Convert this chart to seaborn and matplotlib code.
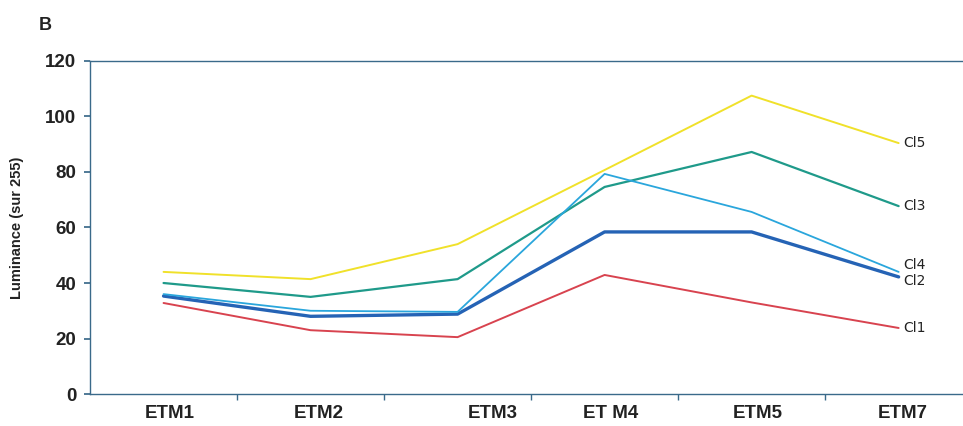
import pandas as pd
import matplotlib.pyplot as plt
import matplotlib.transforms as mtransforms
import seaborn as sns

bands = ['ETM1', 'ETM2', 'ETM3', 'ET M4', 'ETM5', 'ETM7']
classes = ['Cl1', 'Cl2', 'Cl3', 'Cl4', 'Cl5']
cl1 = [32.8, 23.0, 20.5, 42.9, 33.0, 23.8]
cl2 = [35.3, 28.0, 28.8, 58.4, 58.4, 42.2]
cl3 = [40.0, 35.0, 41.4, 74.6, 87.2, 67.7]
cl4 = [36.0, 30.0, 29.6, 79.3, 65.6, 44.0]
cl5 = [44.0, 41.4, 54.0, 80.7, 107.5, 90.4]

series = {'Cl1': cl1, 'Cl2': cl2, 'Cl3': cl3, 'Cl4': cl4, 'Cl5': cl5}
rows = []
for name, vals in series.items():
    for i, v in enumerate(vals):
        rows.append({'x': i, 'band': bands[i], 'classe': name, 'lum': v})
df = pd.DataFrame(rows)

palette = {'Cl1': '#d8434f', 'Cl2': '#2563b5', 'Cl3': '#1f9a8a',
           'Cl4': '#2aa6dc', 'Cl5': '#f0e12a'}
widths = {'Cl1': 1.4, 'Cl2': 2.4, 'Cl3': 1.6, 'Cl4': 1.3, 'Cl5': 1.4}
label_dy = {'Cl1': 0, 'Cl2': -1.5, 'Cl3': 0, 'Cl4': 2.5, 'Cl5': 0}
# scanned labels sit a bit off the category centres (pixels)
label_dx = [6, 8, 35, 6, 6, 4]

sns.set_theme(style="white")
plt.rcParams['font.family'] = ['Liberation Sans', 'DejaVu Sans']

fig = plt.figure(figsize=(9.63, 4.26), dpi=100)
ax = fig.add_axes([0.0935, 0.075, 0.916, 0.782])

for name in classes:
    sub = df[df['classe'] == name]
    sns.lineplot(data=sub, x='x', y='lum', color=palette[name],
                 linewidth=widths[name], ax=ax, legend=False)
    last = sub.iloc[-1]
    ax.text(last['x'] + 0.03, last['lum'] + label_dy[name], name,
            fontsize=10, family='Liberation Sans Narrow', va='center', ha='left',
            color='#222222')

ax.set_xlim(-0.5, 5.5)
ax.set_ylim(0, 120)
ax.set_yticks(range(0, 121, 20))
ax.set_xticks(range(len(bands)))
ax.set_xticklabels(bands)
ax.set_xticks([i + 0.5 for i in range(len(bands) - 1)], minor=True)
ax.tick_params(axis='x', which='major', length=0, pad=8, labelsize=13.5)
ax.tick_params(axis='x', which='minor', length=4, color='#3a6a8a', bottom=True)
ax.tick_params(axis='y', length=4, color='#3a6a8a', left=True, labelsize=13.5, pad=6)
for lab in ax.get_xticklabels() + ax.get_yticklabels():
    lab.set_fontweight('bold')
    lab.set_color('#222222')
for lab, dx in zip(ax.get_xticklabels(), label_dx):
    lab.set_transform(lab.get_transform() +
                      mtransforms.ScaledTranslation(dx / 100, 0, fig.dpi_scale_trans))

ax.set_xlabel('')
ax.set_ylabel('Luminance (sur 255)', fontsize=10.5, fontweight='bold', color='#222222')
ax.yaxis.set_label_coords(-0.075, 0.5)

for side in ['left', 'top', 'bottom']:
    ax.spines[side].set_color('#3a6a8a')
    ax.spines[side].set_linewidth(1.0)
ax.spines['right'].set_visible(False)

fig.text(0.04, 0.93, 'B', fontsize=13, fontweight='bold', color='#222222')

plt.savefig('out.png', dpi=100)
plt.close()
